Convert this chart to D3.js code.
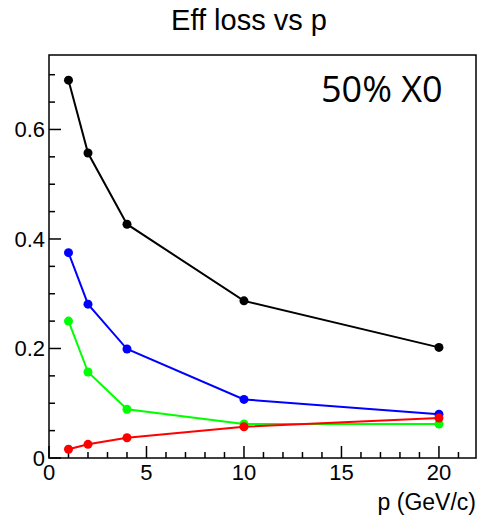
<!DOCTYPE html>
<html>
<head>
<meta charset="utf-8">
<script src="https://cdn.jsdelivr.net/npm/d3@7"></script>
<style>
  body { margin: 0; background: #fff; }
  text { font-family: "Liberation Sans", Arial, sans-serif; }
</style>
</head>
<body>
<svg id="chart"></svg>
<script>
var w = 478;
var h = 517;

// momentum points and efficiency loss per series
var pValues = [1, 2, 4, 10, 20];
var lossBlack = [0.690, 0.557, 0.427, 0.287, 0.202];
var lossBlue = [0.375, 0.281, 0.199, 0.107, 0.080];
var lossGreen = [0.250, 0.157, 0.089, 0.062, 0.062];
var lossRed = [0.016, 0.025, 0.037, 0.057, 0.073];
var xTicks = [0, 5, 10, 15, 20];
var yTicks = [0, 0.2, 0.4, 0.6];

var series = [
    {vals: lossBlack, color: "#000000"},
    {vals: lossBlue, color: "#0000ff"},
    {vals: lossGreen, color: "#00ff00"},
    {vals: lossRed, color: "#ff0000"}
];

var padL = 49, padR = 476, padT = 55, padB = 458;

var x = d3.scaleLinear().domain([0, 21.9]).range([padL, padR]);
var y = d3.scaleLinear().domain([0, 0.736]).range([padB, padT]);

var svg = d3.select("#chart")
    .attr("width", w)
    .attr("height", h);

// frame
svg.append("rect")
    .attr("x", padL)
    .attr("y", padT)
    .attr("width", padR - padL)
    .attr("height", padB - padT)
    .attr("fill", "none")
    .attr("stroke", "#000")
    .attr("stroke-width", 1.5);

// x axis ticks
var xMinor = d3.range(0, 22, 1);
svg.selectAll("line.xminor")
    .data(xMinor)
    .enter()
    .append("line")
    .attr("x1", d => x(d))
    .attr("x2", d => x(d))
    .attr("y1", padB)
    .attr("y2", d => xTicks.indexOf(d) >= 0 ? padB - 12 : padB - 6)
    .attr("stroke", "#000")
    .attr("stroke-width", 1.5);

svg.selectAll("text.xlab")
    .data(xTicks)
    .enter()
    .append("text")
    .attr("x", d => x(d))
    .attr("y", 480)
    .attr("text-anchor", "middle")
    .style("font-size", "22px")
    .text(d => d);

// y axis ticks
var yMinor = d3.range(0, 0.73, 0.05);
svg.selectAll("line.yminor")
    .data(yMinor)
    .enter()
    .append("line")
    .attr("x1", padL)
    .attr("x2", (d, i) => i % 4 == 0 ? padL + 12 : padL + 6)
    .attr("y1", d => y(d))
    .attr("y2", d => y(d))
    .attr("stroke", "#000")
    .attr("stroke-width", 1.5);

svg.selectAll("text.ylab")
    .data(yTicks)
    .enter()
    .append("text")
    .attr("x", 45)
    .attr("y", d => y(d) + 8)
    .attr("text-anchor", "end")
    .style("font-size", "22px")
    .text(d => d == 0 ? "0" : d3.format(".1f")(d));

// series lines and markers
var line = d3.line()
    .x((d, i) => x(pValues[i]))
    .y(d => y(d));

series.forEach(function(s) {
    svg.append("path")
        .attr("d", line(s.vals))
        .attr("fill", "none")
        .attr("stroke", s.color)
        .attr("stroke-width", 2);
    svg.selectAll(null)
        .data(s.vals)
        .enter()
        .append("circle")
        .attr("cx", (d, i) => x(pValues[i]))
        .attr("cy", d => y(d))
        .attr("r", 4.5)
        .attr("fill", s.color);
});

// titles
svg.append("text")
    .attr("x", 249)
    .attr("y", 30)
    .attr("text-anchor", "middle")
    .style("font-size", "29px")
    .text("Eff loss vs p");

svg.append("text")
    .attr("x", 476)
    .attr("y", 510)
    .attr("text-anchor", "end")
    .style("font-size", "23px")
    .text("p (GeV/c)");

svg.append("text")
    .attr("x", 321)
    .attr("y", 102)
    .style("font-family", "'Open Sans', 'Noto Sans', sans-serif")
    .style("font-size", "36px")
    .text("50% X0");
</script>
</body>
</html>
